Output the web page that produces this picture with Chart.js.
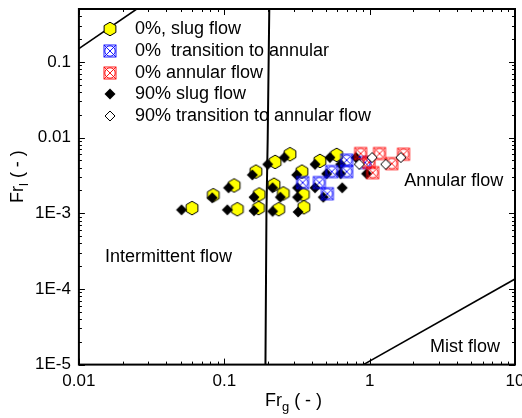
<!DOCTYPE html>
<html>
<head>
<meta charset="utf-8">
<script src="https://cdn.jsdelivr.net/npm/chart.js@4.4.0/dist/chart.umd.min.js"></script>
<style>
  html, body { margin: 0; padding: 0; overflow: hidden; background: #fff; }
  #wrap { width: 540px; height: 418px; }
</style>
</head>
<body>
<div id="wrap"><canvas id="flowMap"></canvas></div>
<script>
// 0% water cut
const slug0X = [0.060, 0.084, 0.117, 0.123, 0.165, 0.174, 0.172, 0.224, 0.220, 0.255, 0.237, 0.283, 0.342, 0.350, 0.353, 0.455, 0.593];
const slug0Y = [1.17e-3, 1.73e-3, 2.33e-3, 1.13e-3, 3.55e-3, 1.77e-3, 1.17e-3, 4.77e-3, 2.38e-3, 1.83e-3, 1.13e-3, 6.03e-3, 3.55e-3, 1.77e-3, 1.20e-3, 4.92e-3, 5.90e-3];
const trans0X = [0.346, 0.451, 0.512, 0.549, 0.695, 0.695, 0.929];
const trans0Y = [2.54e-3, 2.54e-3, 1.81e-3, 3.55e-3, 5.03e-3, 3.55e-3, 4.68e-3];
const annular0X = [0.867, 1.17, 1.71, 1.05, 1.42, 0.99];
const annular0Y = [6.15e-3, 6.15e-3, 6.03e-3, 3.44e-3, 4.53e-3, 4.70e-3];

// 90% water cut
const slug90X = [0.0508, 0.0826, 0.107, 0.105, 0.156, 0.160, 0.160, 0.199, 0.215, 0.215, 0.243, 0.259, 0.315, 0.319, 0.319, 0.322,
                 0.421, 0.421, 0.480, 0.506, 0.533, 0.631, 0.631, 0.648, 0.805, 0.953];
const slug90Y = [1.11e-3, 1.60e-3, 2.17e-3, 1.11e-3, 3.21e-3, 1.63e-3, 1.08e-3, 4.43e-3, 2.17e-3, 1.06e-3, 1.63e-3, 5.45e-3, 3.21e-3, 2.17e-3, 1.63e-3, 1.04e-3,
                 4.43e-3, 2.17e-3, 1.63e-3, 3.33e-3, 5.45e-3, 4.43e-3, 3.33e-3, 2.17e-3, 5.45e-3, 3.33e-3];
const trans90X = [0.849, 1.04, 1.29, 1.64];
const trans90Y = [4.43e-3, 5.45e-3, 4.43e-3, 5.45e-3];

// regime boundaries
const bubbleLineX = [0.01, 0.025];
const bubbleLineY = [0.15, 0.5];
const annularLineX = [0.204, 0.199, 0.195, 0.192];
const annularLineY = [0.5, 0.01, 1e-3, 1e-5];
const mistLineX = [0.906, 10];
const mistLineY = [1e-5, 1.35e-4];

const seriesLabels = ['0%, slug flow', '0%  transition to annular', '0% annular flow', '90% slug flow', '90% transition to annular flow'];
const regionNames = ['Intermittent flow', 'Annular flow', 'Mist flow'];

const xTickValues = [0.01, 0.1, 1, 10];
const xTickLabels = ['0.01', '0.1', '1', '10'];
const yTickValues = [1e-5, 1e-4, 1e-3, 0.01, 0.1];
const yTickLabels = ['1E-5', '1E-4', '1E-3', '0.01', '0.1'];

const FONT = '"Liberation Sans", Arial, Helvetica, sans-serif';

function pts(xs, ys) { return xs.map((x, i) => ({ x: x, y: ys[i] })); }

function makeIcon(size, draw) {
  const c = document.createElement('canvas');
  c.width = size; c.height = size;
  const g = c.getContext('2d');
  draw(g, size / 2);
  return c;
}
const hexIcon = makeIcon(16, (g, c) => {
  g.beginPath();
  for (let k = 0; k < 6; k++) {
    const a = -Math.PI / 2 + k * Math.PI / 3;
    const px = c + 6.8 * Math.cos(a), py = c + 6.8 * Math.sin(a);
    k ? g.lineTo(px, py) : g.moveTo(px, py);
  }
  g.closePath();
  g.fillStyle = '#ffff00'; g.fill();
  g.lineWidth = 1; g.strokeStyle = '#000'; g.stroke();
});
function crossBox(color) {
  return makeIcon(16, (g, c) => {
    const h = 6;
    g.strokeStyle = color; g.lineWidth = 0.9;
    g.strokeRect(c - h, c - h, 2 * h, 2 * h);
    g.beginPath();
    g.moveTo(c - h, c - h); g.lineTo(c + h, c + h);
    g.moveTo(c + h, c - h); g.lineTo(c - h, c + h);
    g.stroke();
    g.beginPath(); g.arc(c, c, 5.2, 0, Math.PI * 2); g.stroke();
  });
}
function diamond(r, fill, stroke) {
  return makeIcon(14, (g, c) => {
    g.beginPath();
    g.moveTo(c, c - r); g.lineTo(c + r, c); g.lineTo(c, c + r); g.lineTo(c - r, c);
    g.closePath();
    g.fillStyle = fill; g.fill();
    if (stroke) { g.lineWidth = 1; g.strokeStyle = stroke; g.stroke(); }
  });
}
const icons = [hexIcon, crossBox('#0000ff'), crossBox('#ff0000'), diamond(5.5, '#000'), diamond(5, '#fff', '#000')];

function markerSet(i, xs, ys, order) {
  return { label: seriesLabels[i], data: pts(xs, ys), pointStyle: icons[i], pointRadius: 6, order: order, showLine: false };
}
function boundary(xs, ys, w) {
  return { label: '', data: pts(xs, ys), showLine: true, borderColor: '#000', borderWidth: w, pointRadius: 0, fill: false, order: 0 };
}

const framePlugin = {
  id: 'frame',
  afterDraw(chart) {
    const { ctx, chartArea: a, scales } = chart;
    const xs = scales.x, ys = scales.y;
    ctx.save();
    ctx.strokeStyle = '#000';
    // inward ticks, all four sides
    ctx.lineWidth = 1;
    ctx.beginPath();
    for (let d = 0.01; d < 10.5; d *= 10) {
      for (let m = 1; m <= 9; m++) {
        const v = d * m;
        if (v > 10.001) break;
        const px = Math.round(xs.getPixelForValue(v)) + 0.5;
        const len = m === 1 ? 6 : 3;
        ctx.moveTo(px, a.bottom); ctx.lineTo(px, a.bottom - len);
        ctx.moveTo(px, a.top); ctx.lineTo(px, a.top + len);
      }
    }
    for (let d = 1e-5; d < 0.5; d *= 10) {
      for (let m = 1; m <= 9; m++) {
        const v = d * m;
        if (v > 0.5001) break;
        const py = Math.round(ys.getPixelForValue(v)) + 0.5;
        const len = m === 1 ? 6 : 3;
        ctx.moveTo(a.left, py); ctx.lineTo(a.left + len, py);
        ctx.moveTo(a.right, py); ctx.lineTo(a.right - len, py);
      }
    }
    ctx.stroke();
    ctx.lineWidth = 2;
    ctx.strokeRect(a.left, a.top, a.right - a.left, a.bottom - a.top);

    // region names
    ctx.fillStyle = '#000';
    ctx.font = '18px ' + FONT;
    ctx.textAlign = 'left';
    ctx.textBaseline = 'middle';
    const notePos = [[0.0151, 2.67e-4], [1.73, 2.67e-3], [2.6, 1.69e-5]];
    regionNames.forEach((t, i) => {
      ctx.fillText(t, xs.getPixelForValue(notePos[i][0]), ys.getPixelForValue(notePos[i][1]));
    });

    // legend
    const lx = a.left + 31, ly = a.top + 20, step = 21.8;
    seriesLabels.forEach((t, i) => {
      const y = ly + i * step;
      const ic = icons[i];
      ctx.drawImage(ic, Math.round(lx - ic.width / 2), Math.round(y - ic.height / 2));
      ctx.fillText(t, lx + 25, y);
    });

    // axis titles with subscripts
    ctx.textBaseline = 'alphabetic';
    function subTitle(base, sub, rest) {
      ctx.font = '18px ' + FONT;
      ctx.fillText(base, 0, 0);
      let w = ctx.measureText(base).width;
      ctx.font = '13px ' + FONT;
      ctx.fillText(sub, w, 5);
      w += ctx.measureText(sub).width;
      ctx.font = '18px ' + FONT;
      ctx.fillText(rest, w, 0);
    }
    ctx.save();
    ctx.translate(a.left + 186, 406);
    subTitle('Fr', 'g', ' ( - )');
    ctx.restore();
    ctx.save();
    ctx.translate(23, 203);
    ctx.rotate(-Math.PI / 2);
    subTitle('Fr', 'l', ' ( - )');
    ctx.restore();
    ctx.restore();
  }
};

const tickFont = { family: FONT, size: 17 };

new Chart(document.getElementById('flowMap').getContext('2d'), {
  type: 'scatter',
  data: {
    datasets: [
      markerSet(0, slug0X, slug0Y, 10),
      markerSet(1, trans0X, trans0Y, 7),
      markerSet(2, annular0X, annular0Y, 6),
      markerSet(3, slug90X, slug90Y, 8),
      markerSet(4, trans90X, trans90Y, 5),
      boundary(bubbleLineX, bubbleLineY, 1.6),
      boundary(annularLineX, annularLineY, 2),
      boundary(mistLineX, mistLineY, 1.6)
    ]
  },
  options: {
    responsive: true,
    maintainAspectRatio: false,
    animation: false,
    layout: { padding: { left: 27, right: 25, top: 9, bottom: 19 } },
    plugins: { legend: { display: false }, tooltip: { enabled: false } },
    scales: {
      x: {
        type: 'logarithmic', min: 0.01, max: 10,
        grid: { display: false, drawTicks: false },
        border: { display: false },
        afterBuildTicks: s => { s.ticks = xTickValues.map(v => ({ value: v })); },
        ticks: { autoSkip: false, maxRotation: 0, padding: 7, color: '#000', font: tickFont,
                 callback: (v, i) => xTickLabels[i] }
      },
      y: {
        type: 'logarithmic', min: 1e-5, max: 0.5,
        grid: { display: false, drawTicks: false },
        border: { display: false },
        afterBuildTicks: s => { s.ticks = yTickValues.map(v => ({ value: v })); },
        afterFit: s => { s.paddingTop = 0; s.paddingBottom = 0; },
        ticks: { autoSkip: false, padding: 8, color: '#000', font: tickFont,
                 callback: (v, i) => yTickLabels[i] }
      }
    }
  },
  plugins: [framePlugin]
});
</script>
</body>
</html>
